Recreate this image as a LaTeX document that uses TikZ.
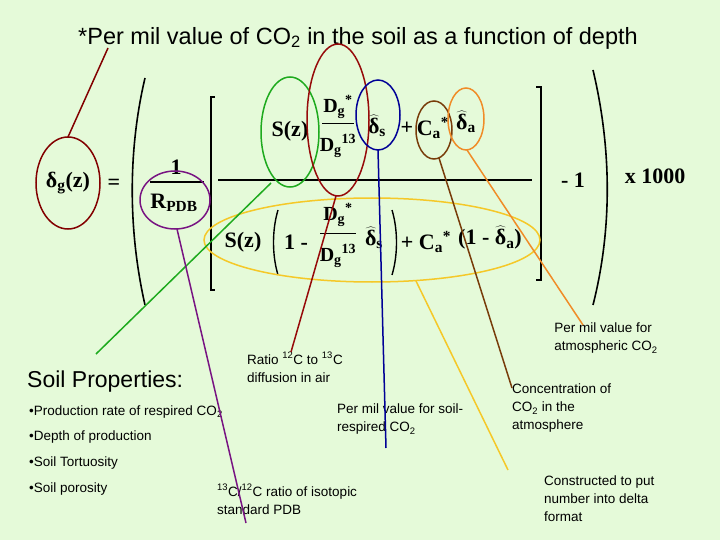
\documentclass[tikz,border=0pt]{standalone}
\usepackage{fontspec}
\setmainfont{Liberation Sans}
\newfontfamily\eqfont{Liberation Serif}
\begin{document}
\begin{tikzpicture}[x=1pt,y=-1pt,
  lbl/.style={font=\fontsize{13.5}{16}\selectfont,align=left,inner sep=0pt},
  ring/.style={line width=1.5pt},
  conn/.style={line width=1.5pt},
  eq/.style={inner sep=0pt,font=\fontsize{22}{24}\selectfont\eqfont\bfseries},
  sm/.style={inner sep=0pt,font=\fontsize{20}{22}\selectfont\eqfont\bfseries}]
\fill[fill={rgb,255:red,229;green,250;blue,217}] (0,0) rectangle (720,540);
\useasboundingbox (0,0) rectangle (720,540);
\newcommand\dhat{$\widehat{\hbox{δ}}$}
% title
\node[font=\fontsize{23.5}{26}\selectfont] (title) at (358,38) {*Per mil value of CO\textsubscript{2} in the soil as a function of depth};
% equation
\node[eq] (lhs) at (68,183) {δ\textsubscript{g}(z)};
\node[eq] (eqs) at (114,184) {=};
\node[eq] (one) at (176,167) {1};
\node[eq] (rpdb) at (174,203) {R\textsubscript{PDB}};
\draw[line width=1.2pt] (150,182) -- (204,182);
\draw[line width=1.6pt] (145,78) .. controls (128,150) and (128,230) .. (145,305);
\draw[line width=1.6pt] (593,70) .. controls (612,150) and (612,230) .. (593,305);
\draw[line width=2pt] (215,97) -- (211,97) -- (211,290) -- (215,290);
\draw[line width=2.5pt] (536,87) -- (541,87) -- (541,280) -- (536,280);
\draw[line width=1.2pt] (218,180) -- (532,180);
% numerator
\node[eq] (n1) at (290,131) {S(z)};
\node[sm] (n2) at (338,107) {D\textsubscript{g}\textsuperscript{*}};
\draw[line width=1pt] (322,124) -- (354,124);
\node[sm] (n3) at (338,146) {D\textsubscript{g}\textsuperscript{13}};
\node[eq] (n4) at (377,126) {\dhat\textsubscript{s}};
\node[eq] (n5) at (407,128) {+};
\node[eq] (n6) at (433,128) {C\textsubscript{a}\textsuperscript{*}};
\node[eq] (n7) at (466,122) {\dhat\textsubscript{a}};
% denominator
\node[eq] (d1) at (243,242) {S(z)};
\draw[line width=1.4pt] (278,210) .. controls (272,230) and (272,255) .. (278,275);
\draw[line width=1.4pt] (392,210) .. controls (398,230) and (398,255) .. (392,275);
\node[eq] (d2) at (296,242) {1 -};
\node[sm] (d3) at (338,215) {D\textsubscript{g}\textsuperscript{*}};
\draw[line width=1pt] (320,233) -- (356,233);
\node[sm] (d4) at (338,256) {D\textsubscript{g}\textsuperscript{13}};
\node[eq] (d5) at (374,238) {\dhat\textsubscript{s}};
\node[eq] (d6) at (426,242) {+ C\textsubscript{a}\textsuperscript{*}};
\node[eq] (d7) at (490,238) {(1 - \dhat\textsubscript{a})};
\node[eq] (m1) at (573,180) {- 1};
\node[eq] (k) at (655,176) {x 1000};
% rings
\draw[ring,color={rgb,255:red,130;green,0;blue,0}] (68,183) ellipse (32 and 46);
\draw[ring,color={rgb,255:red,120;green,20;blue,130}] (175,200) ellipse (35 and 29);
\draw[ring,color={rgb,255:red,30;green,170;blue,30}] (290,132) ellipse (29 and 55);
\draw[ring,color={rgb,255:red,150;green,10;blue,10}] (338,120) ellipse (31 and 76);
\draw[ring,color={rgb,255:red,0;green,0;blue,150}] (378,115) ellipse (22 and 35);
\draw[ring,color={rgb,255:red,120;green,60;blue,10}] (434,130) ellipse (18 and 29);
\draw[ring,color={rgb,255:red,240;green,140;blue,40}] (466,119) ellipse (18 and 31);
\draw[ring,color={rgb,255:red,245;green,200;blue,40}] (372,240) ellipse (168 and 42);
% labels
\node[font=\fontsize{23}{26}\selectfont,anchor=west,inner sep=0pt] (soil) at (27,382) {Soil Properties:};
\node[lbl,anchor=west] (b1) at (29,412) {\textbullet Production rate of respired CO\textsubscript{2}};
\node[lbl,anchor=west] (b2) at (29,437) {\textbullet Depth of production};
\node[lbl,anchor=west] (b3) at (29,463) {\textbullet Soil Tortuosity};
\node[lbl,anchor=west] (b4) at (29,489) {\textbullet Soil porosity};
\node[lbl,anchor=north west] (ratio) at (247,352) {Ratio \textsuperscript{12}C to \textsuperscript{13}C\\[2pt]diffusion in air};
\node[lbl,anchor=north west] (pmsoil) at (337,404) {Per mil value for soil-\\[2pt]respired CO\textsubscript{2}};
\node[lbl,anchor=north west] (iso) at (217,484) {\textsuperscript{13}C/\textsuperscript{12}C ratio of isotopic\\[2pt]standard PDB};
\node[lbl,anchor=north] (pmatm) at (606,323) {Per mil value for\\[2pt]atmospheric CO\textsubscript{2}};
\node[lbl,anchor=north west] (conc) at (512,384) {Concentration of\\[2pt]CO\textsubscript{2} in the\\[2pt]atmosphere};
\node[lbl,anchor=north west] (cons) at (544,476) {Constructed to put\\[2pt]number into delta\\[2pt]format};
% connectors
\coordinate (c1) at (108,48);
\draw[conn,color={rgb,255:red,130;green,0;blue,0}] (68,137) -- (c1);
\coordinate (c2) at (96,354);
\draw[conn,color={rgb,255:red,30;green,170;blue,30}] (271,183) -- (c2);
\coordinate (c3) at (291,352);
\draw[conn,color={rgb,255:red,150;green,10;blue,10}] (336,196) -- (c3);
\coordinate (c4) at (386,448);
\draw[conn,color={rgb,255:red,0;green,0;blue,150}] (378,150) -- (c4);
\coordinate (c5) at (246,523);
\draw[conn,color={rgb,255:red,120;green,20;blue,130}] (177,229) -- (c5);
\coordinate (c6) at (512,388);
\draw[conn,color={rgb,255:red,120;green,60;blue,10}] (439,158) -- (c6);
\coordinate (c7) at (583,325);
\draw[conn,color={rgb,255:red,240;green,140;blue,40}] (467,150) -- (c7);
\coordinate (c8) at (508,470);
\draw[conn,color={rgb,255:red,245;green,200;blue,40}] (416,281) -- (c8);
\end{tikzpicture}
\end{document}
